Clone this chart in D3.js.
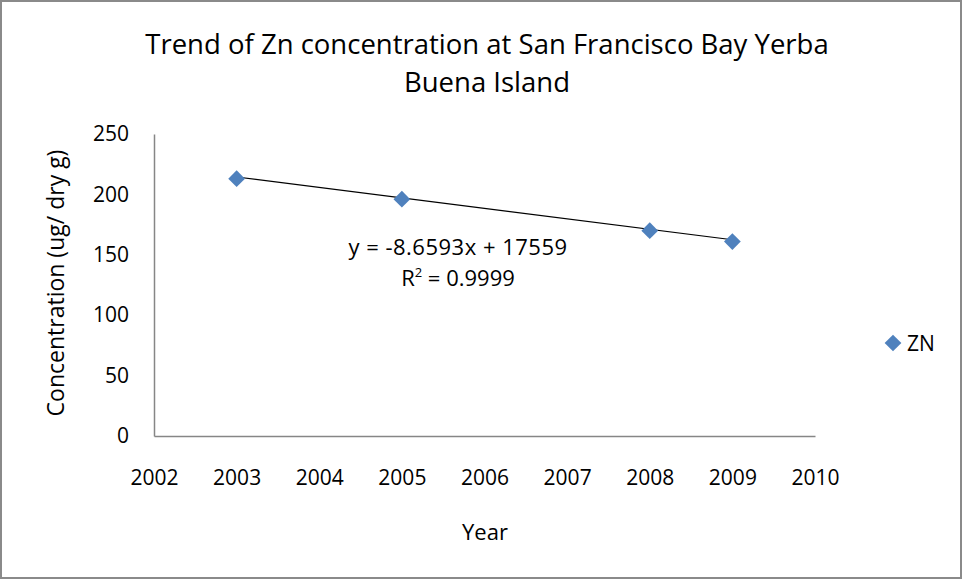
<!DOCTYPE html>
<html lang="en">
<head>
    <meta charset="UTF-8">
    <title>Trend of Zn concentration</title>
    <script src="https://d3js.org/d3.v7.min.js"></script>
    <style>
        body { margin: 0; background: #fff; }
        svg { display: block; font-family: "Open Sans", sans-serif; }
    </style>
</head>
<body>
    <svg></svg>
    <script>
        // Data
        const years = [2003, 2005, 2008, 2009];
        const zn = [213, 196, 170, 161];
        const xTicks = [2002, 2003, 2004, 2005, 2006, 2007, 2008, 2009, 2010];
        const yTicks = [0, 50, 100, 150, 200, 250];
        const slope = -8.6593, intercept = 17559;

        const width = 963, height = 580;
        const svg = d3.select("svg").attr("width", width).attr("height", height);

        // Outer chart border
        svg.append("rect")
            .attr("x", 1).attr("y", 1)
            .attr("width", width - 3).attr("height", height - 3)
            .attr("fill", "white").attr("stroke", "#8a8a8a").attr("stroke-width", 2);

        const x = d3.scaleLinear().domain([2002, 2010]).range([154, 815]);
        const y = d3.scaleLinear().domain([0, 250]).range([436, 134]);

        // Axes without tick marks
        const xAxis = svg.append("g").attr("transform", `translate(0,${y(0)})`)
            .call(d3.axisBottom(x).tickValues(xTicks).tickFormat(d3.format("d")).tickSize(0).tickPadding(34));
        const yAxis = svg.append("g").attr("transform", `translate(${x(2002)},0)`)
            .call(d3.axisLeft(y).tickValues(yTicks).tickSize(0).tickPadding(25));
        [xAxis, yAxis].forEach(g => {
            g.attr("font-family", null).attr("font-size", null);
            g.select(".domain").attr("stroke", "#868686").attr("stroke-width", 1.5);
            g.selectAll("text").attr("font-size", 21).attr("fill", "#000");
        });

        // Trend line
        const trendEnds = [years[0], years[years.length - 1]];
        svg.append("line")
            .attr("x1", x(trendEnds[0])).attr("y1", y(slope * trendEnds[0] + intercept))
            .attr("x2", x(trendEnds[1])).attr("y2", y(slope * trendEnds[1] + intercept))
            .attr("stroke", "#000").attr("stroke-width", 1.2);

        // Diamond markers
        const diamond = d3.symbol(d3.symbolSquare, 140);
        svg.selectAll(".pt").data(years).enter().append("path")
            .attr("class", "pt")
            .attr("d", diamond)
            .attr("transform", (d, i) => `translate(${x(d)},${y(zn[i])}) rotate(45)`)
            .attr("fill", "#4F81BD");

        // Trend equation
        const eq = svg.append("g").attr("font-size", 22).attr("text-anchor", "middle");
        eq.append("text").attr("x", 458).attr("y", 255).attr("letter-spacing", 0.5).text("y = -8.6593x + 17559");
        const r2 = eq.append("text").attr("x", 458).attr("y", 286);
        r2.append("tspan").text("R");
        r2.append("tspan").attr("font-size", 13).attr("dy", -9).text("2");
        r2.append("tspan").attr("dy", 9).text(" = 0.9999");

        // Title
        const title = svg.append("text").attr("text-anchor", "middle").attr("font-size", 27.5);
        title.append("tspan").attr("x", 487).attr("y", 54).text("Trend of Zn concentration at San Francisco Bay Yerba");
        title.append("tspan").attr("x", 487).attr("y", 92).text("Buena Island");

        // Axis titles
        svg.append("text").attr("x", 485).attr("y", 540).attr("text-anchor", "middle")
            .attr("font-size", 22).text("Year");
        svg.append("text").attr("transform", "translate(64,283) rotate(-90)")
            .attr("text-anchor", "middle").attr("font-size", 23).text("Concentration (ug/ dry g)");

        // Legend
        svg.append("path").attr("d", diamond)
            .attr("transform", "translate(893,343) rotate(45)").attr("fill", "#4F81BD");
        svg.append("text").attr("x", 907).attr("y", 351).attr("font-size", 21).text("ZN");
    </script>
</body>
</html>
